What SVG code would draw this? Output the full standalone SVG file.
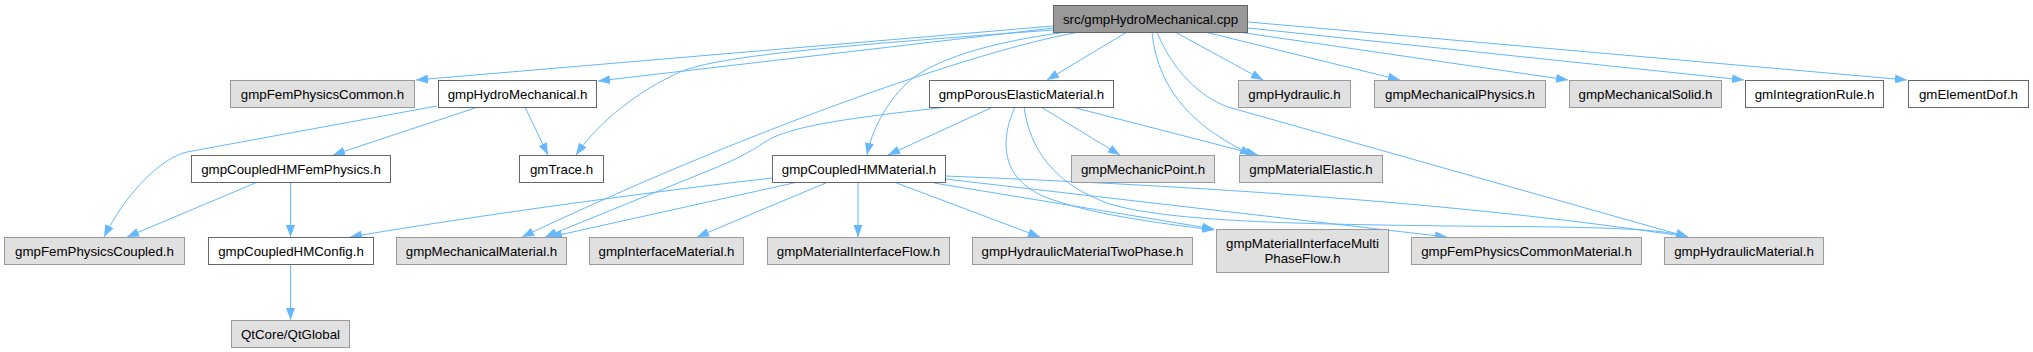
<svg xmlns="http://www.w3.org/2000/svg" width="2033" height="352" viewBox="0 0 2033 352">
<defs>
<style>
.n rect{stroke-width:1}
.w rect{fill:#ffffff;stroke:#666666}
.g rect{fill:#e0e0e0;stroke:#999999}
.r rect{fill:#999999;stroke:#666666}
text{font-family:"Liberation Sans",Arial,sans-serif;font-size:13.3px;fill:#000000;text-anchor:middle}
#edges path{fill:none;stroke:#63b8ff;stroke-width:1;marker-end:url(#ah)}
</style>
<marker id="ah" viewBox="0 0 12 9" refX="12" refY="4.5" markerWidth="12" markerHeight="9" markerUnits="userSpaceOnUse" orient="auto">
<path d="M0,0 L12,4.5 L0,9 z" fill="#63b8ff" stroke="none"/>
</marker>
</defs>
<rect x="0" y="0" width="2033" height="352" fill="#ffffff"/>
<g id="edges">
<path d="M1053,26 L416,80"/>
<path d="M1053,28 L598,81"/>
<path d="M1053,30 C850,45 720,55 680,72 C640,90 600,120 576,155"/>
<path d="M1080,32 C1000,45 780,115 522,237"/>
<path d="M1067,32 C990,42 930,60 905,85 C885,105 872,130 867,155"/>
<path d="M1127,32 L1047,80"/>
<path d="M1152,32 C1158,95 1200,130 1252,155"/>
<path d="M1157,32 C1172,70 1200,97 1228,107 L1688,237"/>
<path d="M1175,32 L1263,80"/>
<path d="M1205,32 L1400,80"/>
<path d="M1238,32 L1568,80"/>
<path d="M1248,28 L1744,80"/>
<path d="M1248,22 L1907,80"/>
<path d="M437,106 L187,152 C160,158 125,195 104,237"/>
<path d="M478,107 L333,155"/>
<path d="M525,107 L548,155"/>
<path d="M260,181 L127,237"/>
<path d="M290.5,181 L290.5,237"/>
<path d="M290.5,264 L290.5,320"/>
<path d="M947,107 C860,117 790,125 765,142 C750,152 735,160 715,168 L545,237"/>
<path d="M993,107 L888,155"/>
<path d="M1041,107 L1120,155"/>
<path d="M1072,107 L1258,155"/>
<path d="M1015,107 C1000,140 1000,178 1045,197 C1090,214 1150,222 1214,230"/>
<path d="M1024,107 C1030,150 1055,185 1110,204 C1170,222 1300,224 1450,226 C1600,227 1660,228 1688,237"/>
<path d="M772,178 C650,192 480,215 350,237"/>
<path d="M798,182 L550,237"/>
<path d="M828,182 L697,237"/>
<path d="M858,182 L858,237"/>
<path d="M894,182 L1040,237"/>
<path d="M934,183 L1214,229"/>
<path d="M945,179 L1447,237"/>
<path d="M945,176 C1150,184 1450,200 1688,237"/>
</g>
<g id="n0" class="n r"><rect x="1053.5" y="5.5" width="194" height="27"/><text x="1150.5" y="23.5">src/gmpHydroMechanical.cpp</text></g>
<g id="n1" class="n g"><rect x="230.5" y="80.5" width="184" height="27"/><text x="322.5" y="98.5">gmpFemPhysicsCommon.h</text></g>
<g id="n2" class="n w"><rect x="438.5" y="80.5" width="158" height="27"/><text x="517.5" y="98.5">gmpHydroMechanical.h</text></g>
<g id="n3" class="n w"><rect x="929.5" y="80.5" width="184" height="27"/><text x="1021.5" y="98.5">gmpPorousElasticMaterial.h</text></g>
<g id="n4" class="n g"><rect x="1238.5" y="80.5" width="112" height="27"/><text x="1294.5" y="98.5">gmpHydraulic.h</text></g>
<g id="n5" class="n g"><rect x="1374.5" y="80.5" width="171" height="27"/><text x="1460" y="98.5">gmpMechanicalPhysics.h</text></g>
<g id="n6" class="n g"><rect x="1569.5" y="80.5" width="152" height="27"/><text x="1645.5" y="98.5">gmpMechanicalSolid.h</text></g>
<g id="n7" class="n w"><rect x="1745.5" y="80.5" width="138" height="27"/><text x="1814.5" y="98.5">gmIntegrationRule.h</text></g>
<g id="n8" class="n w"><rect x="1908.5" y="80.5" width="120" height="27"/><text x="1968.5" y="98.5">gmElementDof.h</text></g>
<g id="n9" class="n w"><rect x="191.5" y="155.5" width="199" height="27"/><text x="291" y="173.5">gmpCoupledHMFemPhysics.h</text></g>
<g id="n10" class="n w"><rect x="519.5" y="155.5" width="84" height="27"/><text x="561.5" y="173.5">gmTrace.h</text></g>
<g id="n11" class="n w"><rect x="772.5" y="155.5" width="173" height="27"/><text x="859" y="173.5">gmpCoupledHMMaterial.h</text></g>
<g id="n12" class="n g"><rect x="1071.5" y="155.5" width="143" height="27"/><text x="1143" y="173.5">gmpMechanicPoint.h</text></g>
<g id="n13" class="n g"><rect x="1239.5" y="155.5" width="143" height="27"/><text x="1311" y="173.5">gmpMaterialElastic.h</text></g>
<g id="n14" class="n g"><rect x="4.5" y="237.5" width="180" height="27"/><text x="94.5" y="255.5">gmpFemPhysicsCoupled.h</text></g>
<g id="n15" class="n w"><rect x="208.5" y="237.5" width="165" height="27"/><text x="291" y="255.5">gmpCoupledHMConfig.h</text></g>
<g id="n16" class="n g"><rect x="396.5" y="237.5" width="170" height="27"/><text x="481.5" y="255.5">gmpMechanicalMaterial.h</text></g>
<g id="n17" class="n g"><rect x="589.5" y="237.5" width="154" height="27"/><text x="666.5" y="255.5">gmpInterfaceMaterial.h</text></g>
<g id="n18" class="n g"><rect x="767.5" y="237.5" width="182" height="27"/><text x="858.5" y="255.5">gmpMaterialInterfaceFlow.h</text></g>
<g id="n19" class="n g"><rect x="972.5" y="237.5" width="220" height="27"/><text x="1082.5" y="255.5">gmpHydraulicMaterialTwoPhase.h</text></g>
<g id="n20" class="n g"><rect x="1216.5" y="229.5" width="172" height="43"/><text x="1302.5" y="247.5">gmpMaterialInterfaceMulti</text><text x="1302.5" y="262.5">PhaseFlow.h</text></g>
<g id="n21" class="n g"><rect x="1411.5" y="237.5" width="230" height="27"/><text x="1526.5" y="255.5">gmpFemPhysicsCommonMaterial.h</text></g>
<g id="n22" class="n g"><rect x="1664.5" y="237.5" width="159" height="27"/><text x="1744" y="255.5">gmpHydraulicMaterial.h</text></g>
<g id="n23" class="n g"><rect x="231.5" y="320.5" width="118" height="27"/><text x="290.5" y="338.5">QtCore/QtGlobal</text></g>
</svg>
